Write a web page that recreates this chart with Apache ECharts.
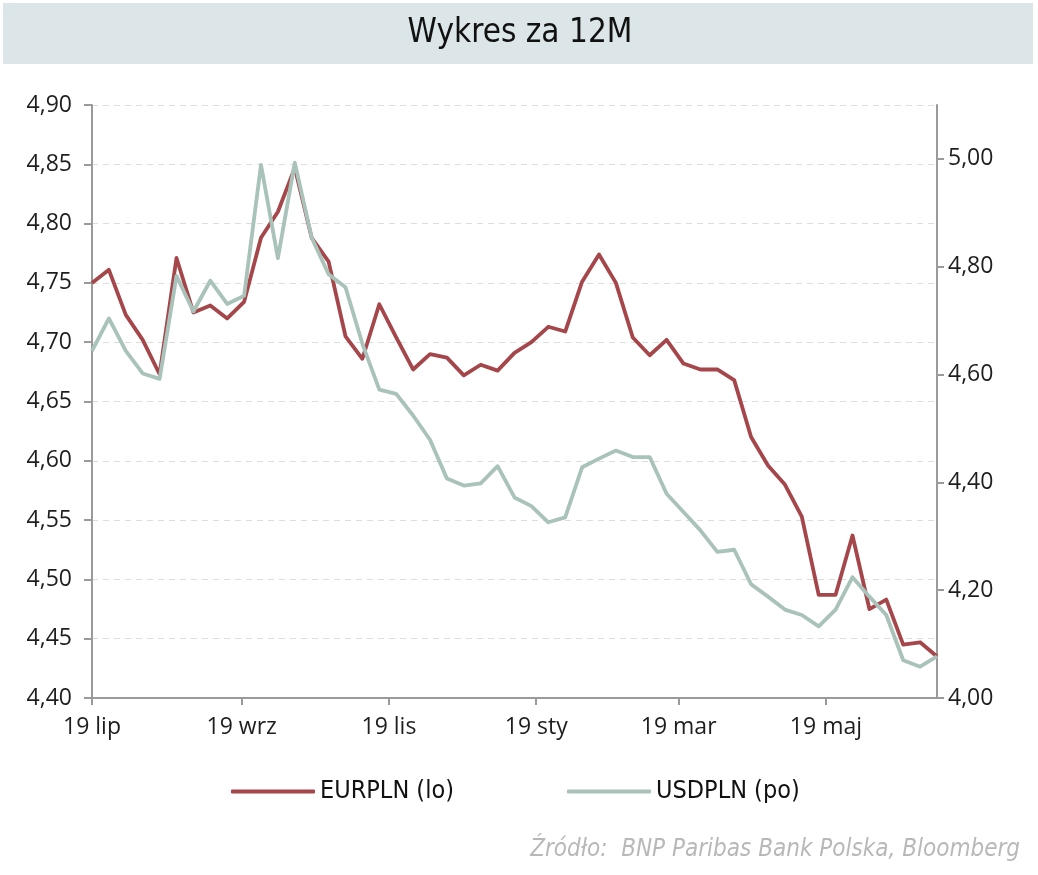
<!DOCTYPE html>
<html>
<head>
<meta charset="utf-8">
<script src="https://cdn.jsdelivr.net/npm/echarts@6/dist/echarts.min.js"></script>
<style>
html,body{margin:0;padding:0;background:#fff;}
#chart{width:1038px;height:875px;}
</style>
</head>
<body>
<div id="chart"></div>
<script>
// Weekly observation dates
const dates = [
 '2022-07-19','2022-07-26','2022-08-02','2022-08-09','2022-08-16','2022-08-23','2022-08-30',
 '2022-09-06','2022-09-13','2022-09-20','2022-09-27','2022-10-04','2022-10-11','2022-10-18',
 '2022-10-25','2022-11-01','2022-11-08','2022-11-15','2022-11-22','2022-11-29','2022-12-06',
 '2022-12-13','2022-12-20','2022-12-27','2023-01-03','2023-01-10','2023-01-17','2023-01-24',
 '2023-01-31','2023-02-07','2023-02-14','2023-02-21','2023-02-28','2023-03-07','2023-03-14',
 '2023-03-21','2023-03-28','2023-04-04','2023-04-11','2023-04-18','2023-04-25','2023-05-02',
 '2023-05-09','2023-05-16','2023-05-23','2023-05-30','2023-06-06','2023-06-13','2023-06-20',
 '2023-06-27','2023-07-04'
];
// EURPLN (left axis)
const eurpln = [
 4.750,4.761,4.723,4.702,4.673,4.771,4.725,4.731,4.720,4.734,4.788,4.810,4.847,4.788,
 4.768,4.705,4.686,4.732,4.704,4.677,4.690,4.687,4.672,4.681,4.676,4.691,4.700,4.713,
 4.709,4.751,4.774,4.750,4.704,4.689,4.702,4.682,4.677,4.677,4.668,4.620,4.596,4.580,
 4.553,4.487,4.487,4.537,4.475,4.483,4.445,4.447,4.435
];
// USDPLN (right axis)
const usdpln = [
 4.644,4.704,4.644,4.602,4.592,4.783,4.717,4.774,4.731,4.746,4.989,4.816,4.993,4.854,
 4.786,4.762,4.657,4.572,4.564,4.524,4.479,4.407,4.394,4.398,4.430,4.372,4.356,4.326,
 4.335,4.428,4.444,4.459,4.447,4.447,4.379,4.345,4.311,4.271,4.275,4.211,4.188,4.164,
 4.154,4.133,4.164,4.224,4.188,4.154,4.070,4.058,4.077
];
// Axis ticks / labels
const xTickDates = ['2022-07-19','2022-09-19','2022-11-19','2023-01-19','2023-03-19','2023-05-19'];
const xTickLabels = ['19 lip','19 wrz','19 lis','19 sty','19 mar','19 maj'];
const leftTicks = [4.40,4.45,4.50,4.55,4.60,4.65,4.70,4.75,4.80,4.85,4.90];
const rightTicks = [4.00,4.20,4.40,4.60,4.80,5.00];
const rightMax = 5.10;
const seriesNames = ['EURPLN (lo)','USDPLN (po)'];

// day offset from the first date (calendar days, UTC)
function dayNum(s){const p=s.split('-').map(Number);return Date.UTC(p[0],p[1]-1,p[2])/864e5;}
const d0 = dayNum(dates[0]);
const xDays = dates.map(s => dayNum(s) - d0);
const xTickDays = xTickDates.map(s => dayNum(s) - d0);
const fmt = v => v.toFixed(2).replace('.',',');

const chart = echarts.init(document.getElementById('chart'), null, {renderer:'canvas'});
const axisGray = '#9a9a9a';
const condensed = "'DejaVu Sans Condensed', 'Roboto', sans-serif";
const labelFont = {fontFamily:'Open Sans', fontSize:23, color:'#1e1e1e'};

chart.setOption({
  animation:false,
  backgroundColor:'#ffffff',
  graphic:[
    {type:'rect', shape:{x:3,y:3,width:1030,height:61}, style:{fill:'#dce5e7'}, silent:true},
    {type:'text', x:520, y:33, style:{text:'Wykres za 12M', fontFamily:condensed, fontSize:33, fill:'#111', textAlign:'center', textVerticalAlign:'middle'}},
    {type:'text', x:1020, y:850, style:{text:'Źródło:  BNP Paribas Bank Polska, Bloomberg', fontFamily:condensed, fontStyle:'italic', fontSize:24, fill:'#b8b8b8', textAlign:'right', textVerticalAlign:'middle'}}
  ],
  grid:{left:92, right:101, top:105, bottom:177, containLabel:false},
  legend:[
    {data:[seriesNames[0]], left:226, top:774, icon:'roundRect', itemWidth:84, itemHeight:4, itemGap:0,
     textStyle:{fontFamily:condensed, fontSize:25, color:'#111'}},
    {data:[seriesNames[1]], left:562, top:774, icon:'roundRect', itemWidth:84, itemHeight:4, itemGap:0,
     textStyle:{fontFamily:condensed, fontSize:25, color:'#111'}}
  ],
  xAxis:{
    type:'value',
    min:0, max:xDays[xDays.length-1],
    axisLine:{lineStyle:{color:axisGray, width:2}},
    axisTick:{show:true, length:7, lineStyle:{color:axisGray, width:2}, customValues:xTickDays},
    axisLabel:Object.assign({margin:18, customValues:xTickDays, hideOverlap:false,
      formatter:function(v){const i=xTickDays.indexOf(v);return i>=0?xTickLabels[i]:'';}}, labelFont),
    splitLine:{show:false}
  },
  yAxis:[
    {type:'value', min:leftTicks[0], max:leftTicks[leftTicks.length-1], interval:0.05, position:'left',
     axisLine:{show:true, lineStyle:{color:axisGray, width:2}},
     axisTick:{show:true, length:8, lineStyle:{color:axisGray, width:2}},
     axisLabel:Object.assign({margin:20, formatter:fmt}, labelFont),
     splitLine:{show:true, lineStyle:{color:'#dcdcdc', type:[6,5], width:1}}
    },
    {type:'value', min:rightTicks[0], max:rightMax, position:'right',
     axisLine:{show:true, lineStyle:{color:axisGray, width:2}},
     axisTick:{show:true, length:7, lineStyle:{color:axisGray, width:2}, customValues:rightTicks},
     axisLabel:Object.assign({margin:11, formatter:fmt, customValues:rightTicks}, labelFont),
     splitLine:{show:false}
    }
  ],
  series:[
    {name:seriesNames[0], type:'line', yAxisIndex:0, symbol:'none', color:'#a4464a',
     lineStyle:{width:3.8, color:'#a4464a', join:'round'},
     data:xDays.map((x,i)=>[x, eurpln[i]])},
    {name:seriesNames[1], type:'line', yAxisIndex:1, symbol:'none', color:'#a9c2ba',
     lineStyle:{width:3.8, color:'#a9c2ba', join:'round'},
     data:xDays.map((x,i)=>[x, usdpln[i]])}
  ]
});
</script>
</body>
</html>
